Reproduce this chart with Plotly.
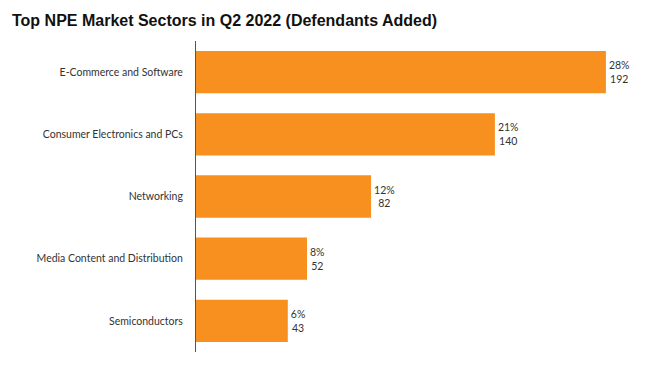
import plotly.graph_objects as go

categories = ["E-Commerce and Software", "Consumer Electronics and PCs", "Networking",
              "Media Content and Distribution", "Semiconductors"]
counts = [192, 140, 82, 52, 43]
percents = ["28%", "21%", "12%", "8%", "6%"]

labels = [f"{p}<br>{c}" for p, c in zip(percents, counts)]

fig = go.Figure(go.Bar(
    y=categories, x=counts, orientation="h",
    marker=dict(color="#F7901E", line=dict(width=0)),
    text=labels, textposition="outside", cliponaxis=False,
    textfont=dict(family="Lato, Open Sans, sans-serif", size=10.5, color="#333333"),
    hoverinfo="skip",
))

fig.update_layout(
    width=648, height=376,
    margin=dict(l=188, r=36, t=33, b=32, autoexpand=False),
    paper_bgcolor="white", plot_bgcolor="white",
    bargap=0.32,
    showlegend=False,
    title=dict(text="<b>Top NPE Market Sectors in Q2 2022 (Defendants Added)</b>",
               x=4 / 648, xref="container", xanchor="left",
               y=1 - 12 / 376, yref="container", yanchor="middle",
               font=dict(family="Liberation Sans, Arial, sans-serif", size=16, color="#111111"),
               pad=dict(l=0, t=0, b=0, r=0)),
    xaxis=dict(range=[0, 198.6], visible=False, showgrid=False, zeroline=False, automargin=False),
    yaxis=dict(autorange="reversed", showline=True, linecolor="#555555", linewidth=1,
               ticks="", showgrid=False, ticklabelstandoff=10, automargin=False,
               tickfont=dict(family="Lato, Open Sans, sans-serif", size=10.5, color="#333333")),
)

fig.write_html("out.html")
